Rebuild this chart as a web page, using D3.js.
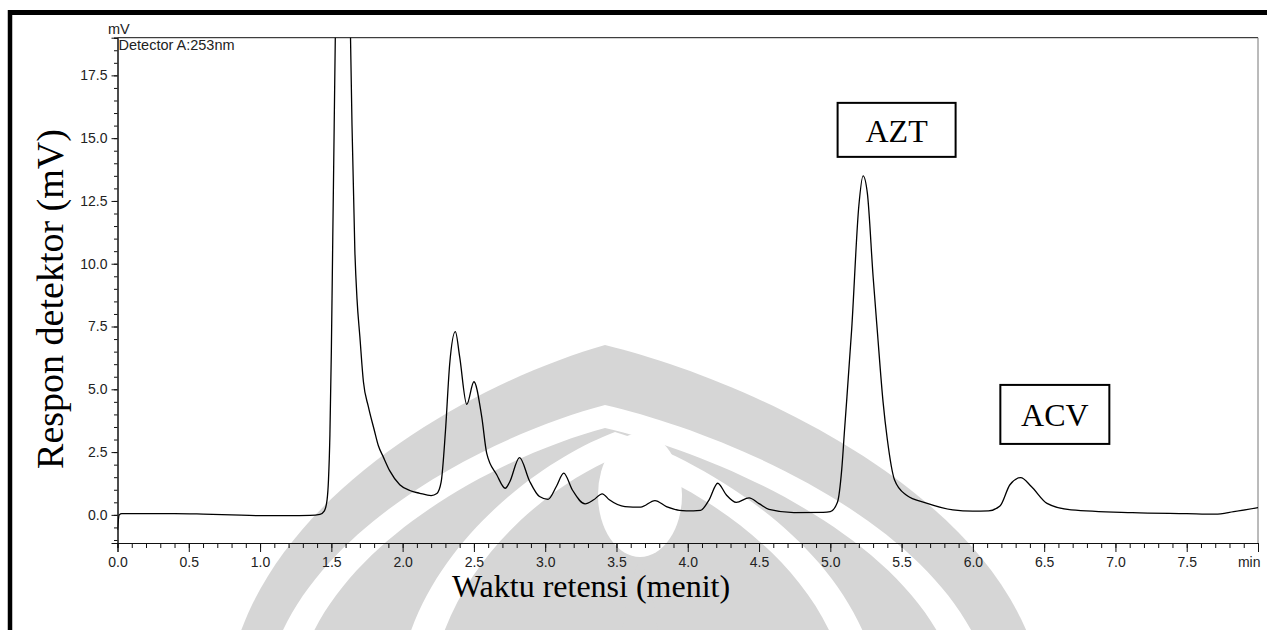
<!DOCTYPE html>
<html>
<head>
<meta charset="utf-8">
<script src="https://cdn.jsdelivr.net/npm/d3@7"></script>
<style>
  html, body { margin: 0; padding: 0; background: #fff; }
  svg { display: block; }
</style>
</head>
<body>
<svg id="chart" width="1267" height="630"></svg>
<script>
// retention time (min) and detector response (mV)
const times = [0.000, 0.012, 0.03, 0.2, 0.4, 0.6, 0.8, 1.0, 1.2, 1.35, 1.42, 1.45, 1.47, 1.48, 1.49,
  1.50, 1.51, 1.52, 1.53, 1.55, 1.58, 1.61, 1.63, 1.645, 1.665, 1.68, 1.70, 1.725, 1.76, 1.80,
  1.83, 1.865, 1.91, 1.98, 2.05, 2.12, 2.20, 2.24, 2.27, 2.30, 2.33, 2.37, 2.40, 2.45, 2.50,
  2.555, 2.59, 2.66, 2.72, 2.75, 2.82, 2.89, 2.96, 3.02, 3.08, 3.13, 3.19, 3.28, 3.34, 3.40,
  3.45, 3.56, 3.67, 3.77, 3.85, 3.99, 4.09, 4.15, 4.21, 4.27, 4.34, 4.43, 4.50, 4.57, 4.745,
  4.95, 5.00, 5.05, 5.08, 5.10, 5.15, 5.20, 5.23, 5.26, 5.30, 5.33, 5.37, 5.40, 5.45, 5.53,
  5.68, 5.86, 6.00, 6.11, 6.19, 6.26, 6.335, 6.41, 6.52, 6.69, 7.12, 7.50, 7.70, 7.83, 8.00];
const response = [-0.60, 0.00, 0.05, 0.05, 0.05, 0.03, 0.00, -0.03, -0.03, -0.02, 0.02, 0.15, 0.6, 1.4, 3.2,
  6.5, 11.0, 15.5, 20.0, 26.0, 29.0, 26.0, 20.5, 15.5, 10.5, 8.6, 7.1, 5.3, 4.3, 3.4,
  2.75, 2.3, 1.75, 1.2, 0.97, 0.86, 0.77, 0.85, 1.3, 3.3, 6.0, 7.3, 6.3, 4.4, 5.3,
  3.9, 2.45, 1.6, 1.06, 1.3, 2.28, 1.35, 0.73, 0.62, 1.15, 1.66, 1.0, 0.44, 0.6, 0.84,
  0.6, 0.33, 0.31, 0.57, 0.33, 0.16, 0.18, 0.6, 1.26, 0.8, 0.5, 0.68, 0.45, 0.22, 0.09,
  0.10, 0.13, 0.5, 1.8, 3.4, 7.4, 12.3, 13.5, 12.8, 9.5, 7.3, 4.5, 3.0, 1.4, 0.8,
  0.46, 0.2, 0.15, 0.16, 0.35, 1.2, 1.48, 1.13, 0.46, 0.2, 0.09, 0.05, 0.03, 0.13, 0.29];

const xMajor = [0, 0.5, 1, 1.5, 2, 2.5, 3, 3.5, 4, 4.5, 5, 5.5, 6, 6.5, 7, 7.5, 8];
const yMajor = [0, 2.5, 5, 7.5, 10, 12.5, 15, 17.5];
const peakNames = ["AZT", "ACV"];
const peakTimes = [5.23, 6.34];
const labelLevels = [15.33, 4.0];

const svg = d3.select("#chart");
const W = 1267, H = 630;
const plotL = 117.5, plotR = 1258, plotT = 37.7, plotB = 543;

// faint university watermark behind everything
function arch(xl, xr, xa, yA, base) {
  const h = base - yA, wl = xa - xl, wr = xr - xa;
  return `M${xl},${base} C${xl},${yA + 0.45 * h} ${xa - 0.35 * wl},${yA + 0.1 * h} ${xa},${yA} ` +
         `C${xa + 0.35 * wr},${yA + 0.1 * h} ${xr},${yA + 0.45 * h} ${xr},${base} Z`;
}
const mark = svg.append("g").attr("fill", "#d6d6d6");
mark.append("path").attr("d", arch(225, 1045, 605, 345, 720));
mark.append("path").attr("fill", "#fff").attr("fill-rule", "evenodd")
  .attr("d", arch(262, 995, 605, 405, 720) + arch(292, 962, 605, 428, 720));
mark.append("path").attr("fill", "#fff").attr("fill-rule", "evenodd")
  .attr("d", arch(395, 882, 615, 432, 720) + arch(428, 850, 615, 458, 720));
mark.append("ellipse").attr("fill", "#fff").attr("cx", 640).attr("cy", 495).attr("rx", 42).attr("ry", 62);
mark.append("path").attr("d", arch(618, 662, 640, 560, 700));

const x = d3.scaleLinear().domain([0, 8]).range([plotL, plotR]);
const y = d3.scaleLinear().domain([-1.12, 19.0]).range([plotB, plotT]);

// outer black frame
svg.append("line").attr("x1", 8).attr("x2", W).attr("y1", 12.5).attr("y2", 12.5)
  .attr("stroke", "#000").attr("stroke-width", 5);
svg.append("line").attr("x1", 10).attr("x2", 10).attr("y1", 10).attr("y2", H)
  .attr("stroke", "#000").attr("stroke-width", 4.5);

// plot frame (top and right)
svg.append("line").attr("x1", plotL).attr("x2", plotR).attr("y1", plotT).attr("y2", plotT)
  .attr("stroke", "#111").attr("stroke-width", 1);
svg.append("line").attr("x1", plotR).attr("x2", plotR).attr("y1", plotT).attr("y2", plotB)
  .attr("stroke", "#777").attr("stroke-width", 1);

// x axis
const fmt = d3.format(".1f");
const xMinor = svg.append("g").attr("transform", `translate(0,${plotB})`)
  .call(d3.axisBottom(x).tickValues(d3.range(0, 81).map(i => i / 10)).tickSize(5).tickFormat(""));
const xAxis = svg.append("g").attr("transform", `translate(0,${plotB})`)
  .call(d3.axisBottom(x).tickValues(xMajor).tickSize(9).tickFormat(d => d === 8 ? "min" : fmt(d)));
xAxis.selectAll("text").attr("dy", null).attr("y", 24)
  .style("font-family", "'Liberation Sans', Arial, sans-serif").style("font-size", "14px").attr("fill", "#222");
xAxis.selectAll("text").filter(d => d === 8).attr("text-anchor", "end").attr("x", 2);

// y axis
const yMinor = svg.append("g").attr("transform", `translate(${plotL},0)`)
  .call(d3.axisLeft(y).tickValues(d3.range(-2, 39).map(i => i / 2)).tickSize(3.5).tickFormat(""));
const yAxis = svg.append("g").attr("transform", `translate(${plotL},0)`)
  .call(d3.axisLeft(y).tickValues(yMajor).tickSize(6).tickPadding(4).tickFormat(fmt));
yAxis.selectAll("text")
  .style("font-family", "'Liberation Sans', Arial, sans-serif").style("font-size", "14px").attr("fill", "#222");
[xMinor, xAxis, yMinor, yAxis].forEach(g => {
  g.selectAll(".domain").attr("stroke", "#111");
  g.selectAll("line").attr("stroke", "#111");
});

// units / detector caption
svg.append("text").attr("x", 108).attr("y", 34).text("mV")
  .style("font-family", "'Liberation Sans', Arial, sans-serif").style("font-size", "14.5px").attr("fill", "#222");
svg.append("text").attr("x", 118.5).attr("y", 50).text("Detector A:253nm")
  .style("font-family", "'Liberation Sans', Arial, sans-serif").style("font-size", "14.5px").attr("fill", "#222");

// chromatogram trace
svg.append("clipPath").attr("id", "plotClip")
  .append("rect").attr("x", plotL).attr("y", plotT).attr("width", plotR - plotL).attr("height", plotB - plotT);
const line = d3.line()
  .x((d, i) => x(times[i]))
  .y(d => y(d))
  .curve(d3.curveMonotoneX);
svg.append("path")
  .attr("clip-path", "url(#plotClip)")
  .attr("d", line(response))
  .attr("fill", "none")
  .attr("stroke", "#000")
  .attr("stroke-width", 1.3);

// peak labels in boxes
const serif = "'Liberation Serif', 'Times New Roman', serif";
peakNames.forEach((name, i) => {
  const g = svg.append("g").attr("transform", `translate(${x(peakTimes[i]) + 33.5},${y(labelLevels[i])})`);
  g.append("text").attr("text-anchor", "middle").attr("y", 12).text(name)
    .style("font-family", serif).style("font-size", "32px").attr("fill", "#000");
  const bw = name === "AZT" ? 118 : 109, bh = name === "AZT" ? 54 : 59;
  g.insert("rect", "text").attr("x", -bw / 2).attr("y", -bh / 2).attr("width", bw).attr("height", bh)
    .attr("fill", "#fff").attr("stroke", "#000").attr("stroke-width", 2);
});

// axis titles
svg.append("text").attr("x", 591).attr("y", 597).attr("text-anchor", "middle")
  .text("Waktu retensi (menit)")
  .style("font-family", serif).style("font-size", "32px").attr("fill", "#000");
svg.append("text").attr("transform", "translate(63,299) rotate(-90)").attr("text-anchor", "middle")
  .text("Respon detektor (mV)")
  .style("font-family", serif).style("font-size", "38px").attr("fill", "#000");
</script>
</body>
</html>
